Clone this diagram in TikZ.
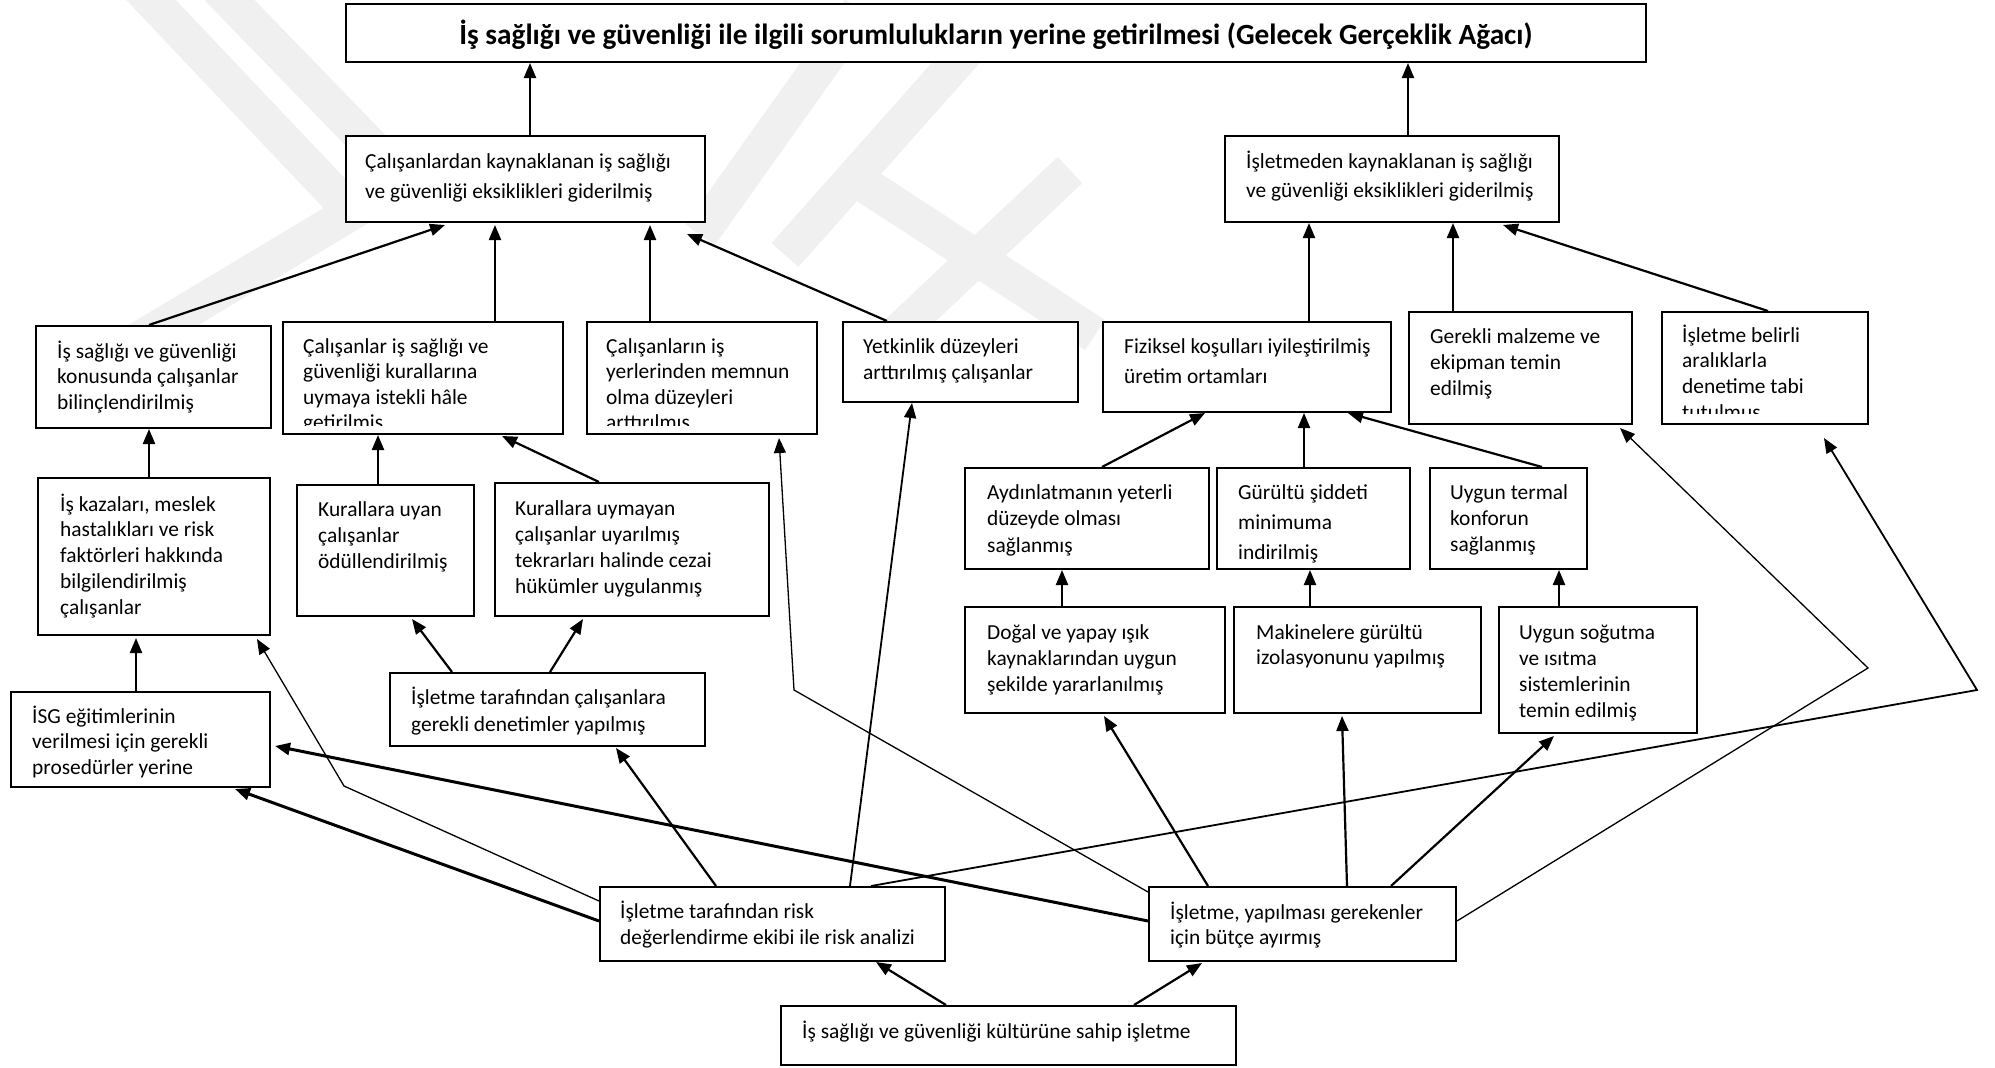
\documentclass[tikz,border=0pt]{standalone}
\usepackage{fontspec}
\setmainfont{Carlito}
\usetikzlibrary{arrows.meta}

% body text and line stacks
\newcommand{\body}{\fontsize{21.4}{25}\selectfont}
\newcommand{\lns}[2]{\renewcommand{\arraystretch}{#1}\begin{tabular}[t]{@{}l@{}}#2\end{tabular}}
% rectangle node given by its corners: name, x1, y1, x2, y2
\newcommand{\treebox}[5]{%
  \node[box, minimum width={(#4-#2)*1pt}, minimum height={(#5-#3)*1pt}]
    (#1) at ({(#2+#4)/2},{(#3+#5)/2}) {};}

\begin{document}
\begin{tikzpicture}[x=1pt, y=-1pt,
  box/.style={draw, line width=2pt, fill=white, inner sep=0pt},
  txt/.style={anchor=base west, inner sep=0pt, font=\body},
  tip/.style={-{Triangle[length=15pt,width=12pt]}},
  arr/.style={tip, line width=2.2pt},
  arrthin/.style={tip, line width=1.3pt},
  arrmid/.style={tip, line width=1.8pt},
  arrthick/.style={tip, line width=3pt},
  emblem/.style={draw=black!6, line width=36pt, line join=miter}]
\useasboundingbox (0,0) rectangle (1995,1068);

% faint background emblem
\draw[emblem] (132,-20) -- (352,212) -- (130,345);
\draw[emblem] (210,-20) -- (375,150);
\draw[emblem] (700,235) -- (860,10);
\draw[emblem] (785,255) -- (985,30);
\draw[emblem] (850,175) -- (1095,335);
\draw[emblem] (895,335) -- (1070,170);

% boxes
\treebox{T}{346}{4}{1646}{62}
\treebox{L1}{346}{136}{705}{222}
\treebox{R1}{1225}{136}{1559}{222}
\treebox{A}{36}{326}{271}{428}
\treebox{B}{283}{322}{563}{434}
\treebox{C}{587}{322}{817}{434}
\treebox{D}{843}{322}{1078}{402}
\treebox{E}{1103}{322}{1391}{412}
\treebox{F}{1409}{312}{1632}{424}
\treebox{G}{1662}{312}{1868}{424}
\treebox{H}{38}{478}{270}{635}
\treebox{I}{297}{485}{474}{616}
\treebox{J}{495}{483}{769}{616}
\treebox{P}{965}{468}{1209}{569}
\treebox{Q}{1217}{468}{1410}{569}
\treebox{R}{1430}{468}{1587}{569}
\treebox{S}{965}{607}{1225}{713}
\treebox{M}{1234}{607}{1481}{713}
\treebox{U}{1499}{607}{1697}{733}
\treebox{K}{390}{673}{705}{746}
\treebox{N}{11}{692}{270}{787}
\treebox{Risk}{600}{887}{945}{961}
\treebox{Bud}{1149}{887}{1456}{961}
\treebox{Bot}{781}{1006}{1236}{1065}

% texts
\node[anchor=base, inner sep=0pt, font=\fontsize{29.3}{33}\selectfont\bfseries] (Tt) at (996,44)
  {İş sağlığı ve güvenliği ile ilgili sorumlulukların yerine getirilmesi (Gelecek Gerçeklik Ağacı)};
\node[txt] (L1t) at (365,168) {\lns{1.2}{Çalışanlardan kaynaklanan iş sağlığı\\ve güvenliği eksiklikleri giderilmiş}};
\node[txt] (R1t) at (1246,168) {\lns{1.16}{İşletmeden kaynaklanan iş sağlığı\\ve güvenliği eksiklikleri giderilmiş}};
\node[txt] (At) at (57,358) {\lns{1.02}{İş sağlığı ve güvenliği\\konusunda çalışanlar\\bilinçlendirilmiş}};
\begin{scope}
  \clip (283,322) rectangle (563,425);
  \node[txt] (Bt) at (303,353) {\lns{1.02}{Çalışanlar iş sağlığı ve\\güvenliği kurallarına\\uymaya istekli hâle\\getirilmiş}};
\end{scope}
\begin{scope}
  \clip (587,322) rectangle (817,425);
  \node[txt] (Ct) at (606,353) {\lns{1.02}{Çalışanların iş\\yerlerinden memnun\\olma düzeyleri\\arttırılmış}};
\end{scope}
\node[txt] (Dt) at (863,353) {\lns{1.04}{Yetkinlik düzeyleri\\arttırılmış çalışanlar}};
\node[txt] (Et) at (1124,353) {\lns{1.2}{Fiziksel koşulları iyileştirilmiş\\üretim ortamları}};
\node[txt] (Ft) at (1430,343) {\lns{1.04}{Gerekli malzeme ve\\ekipman temin\\edilmiş}};
\begin{scope}
  \clip (1662,312) rectangle (1868,413);
  \node[txt] (Gt) at (1682,342) {\lns{1.03}{İşletme belirli\\aralıklarla\\denetime tabi\\tutulmuş}};
\end{scope}
\node[txt] (Ht) at (60,511) {\lns{1.03}{İş kazaları, meslek\\hastalıkları ve risk\\faktörleri hakkında\\bilgilendirilmiş\\çalışanlar}};
\node[txt] (It) at (318,516) {\lns{1.04}{Kurallara uyan\\çalışanlar\\ödüllendirilmiş}};
\node[txt] (Jt) at (515,515) {\lns{1.04}{Kurallara uymayan\\çalışanlar uyarılmış\\tekrarları halinde cezai\\hükümler uygulanmış}};
\node[txt] (Pt) at (987,499) {\lns{1.06}{Aydınlatmanın yeterli\\düzeyde olması\\sağlanmış}};
\node[txt] (Qt) at (1238,499) {\lns{1.2}{Gürültü şiddeti\\minimuma\\indirilmiş}};
\node[txt] (Rt) at (1450,499) {\lns{1.04}{Uygun termal\\konforun\\sağlanmış}};
\node[txt] (St) at (987,639) {\lns{1.04}{Doğal ve yapay ışık\\kaynaklarından uygun\\şekilde yararlanılmış}};
\node[txt] (Mt) at (1256,639) {\lns{1.0}{Makinelere gürültü\\izolasyonunu yapılmış}};
\node[txt] (Ut) at (1519,639) {\lns{1.04}{Uygun soğutma\\ve ısıtma\\sistemlerinin\\temin edilmiş}};
\node[txt] (Kt) at (411,704) {\lns{1.08}{İşletme tarafından çalışanlara\\gerekli denetimler yapılmış}};
\begin{scope}
  \clip (11,692) rectangle (270,778);
  \node[txt] (Nt) at (32,723) {\lns{1.03}{İSG eğitimlerinin\\verilmesi için gerekli\\prosedürler yerine}};
\end{scope}
\node[txt] (Riskt) at (620,918) {\lns{1.04}{İşletme tarafından risk\\değerlendirme ekibi ile risk analizi}};
\node[txt] (Budt) at (1170,919) {\lns{1.0}{İşletme, yapılması gerekenler\\için bütçe ayırmış}};
\node[txt] (Bott) at (802,1038) {İş sağlığı ve güvenliği kültürüne sahip işletme};

% bend points of the long connectors
\coordinate (kH) at (344,786);
\coordinate (kC) at (794,690);
\coordinate (kF) at (1868,668);
\coordinate (kG) at (1977,690);

% connectors
\draw[arr] ([xshift=185pt]L1.north west) -- ([xshift=185pt]T.south west);
\draw[arr] ([xshift=184pt]R1.north west) -- ([xshift=1063pt]T.south west);
\draw[arr] ([xshift=114pt]A.north west) -- ([xshift=100pt,yshift=-2pt]L1.south west);
\draw[arr] ([xshift=213pt]B.north west) -- ([xshift=150pt,yshift=-2pt]L1.south west);
\draw[arr] ([xshift=64pt]C.north west) -- ([xshift=305pt,yshift=-2pt]L1.south west);
\draw[arr] ([xshift=45pt]D.north west) -- ([xshift=342pt,yshift=-11pt]L1.south west);
\draw[arr] ([xshift=207pt]E.north west) -- ([xshift=85pt]R1.south west);
\draw[arr] ([xshift=45pt]F.north west) -- ([xshift=229pt]R1.south west);
\draw[arr] ([xshift=107pt]G.north west) -- ([xshift=279pt,yshift=-2pt]R1.south west);
\draw[arr] ([xshift=112pt]H.north west) -- ([xshift=114pt]A.south west);
\draw[arr] ([xshift=82pt]I.north west) -- ([xshift=96pt]B.south west);
\draw[arr] ([xshift=105pt]J.north west) -- ([xshift=220pt,yshift=-1pt]B.south west);
\draw[arr] ([xshift=138pt]P.north west) -- ([xshift=103pt]E.south west);
\draw[arr] ([xshift=88pt]Q.north west) -- ([xshift=202pt]E.south west);
\draw[arr] ([xshift=113pt]R.north west) -- ([xshift=246pt]E.south west);
\draw[arr] ([xshift=98pt]S.north west) -- ([xshift=98pt]P.south west);
\draw[arr] ([xshift=77pt]M.north west) -- ([xshift=94pt]Q.south west);
\draw[arr] ([xshift=61pt]U.north west) -- ([xshift=130pt]R.south west);
\draw[arr] ([xshift=63pt]K.north west) -- ([xshift=116pt,yshift=-2pt]I.south west);
\draw[arr] ([xshift=161pt]K.north west) -- ([xshift=89pt,yshift=-2pt]J.south west);
\draw[arr] ([xshift=126pt]N.north west) -- ([xshift=99pt,yshift=-2pt]H.south west);

\draw[arrthick] ([yshift=-35pt]Risk.north west) -- ([xshift=225pt,yshift=-1pt]N.south west);
\draw[arrthin] ([yshift=-15pt]Risk.north west) -- (kH) -- ([xshift=220pt,yshift=-3pt]H.south west);
\draw[arr] ([xshift=117pt]Risk.north west) -- ([xshift=227pt,yshift=-1pt]K.south west);
\draw[arrmid] ([xshift=251pt]Risk.north west) -- ([xshift=70pt]D.south west);
\draw[arrmid] ([xshift=272pt]Risk.north west) -- (kG) -- ([xshift=163pt,yshift=-13pt]G.south west);

\draw[arrthick] ([yshift=-35pt]Bud.north west) -- ([xshift=4pt,yshift=-55pt]N.north east);
\draw[arrthin] ([yshift=-6pt]Bud.north west) -- (kC) -- ([xshift=193pt,yshift=-3pt]C.south west);
\draw[arr] ([xshift=60pt]Bud.north west) -- ([xshift=140pt,yshift=-2pt]S.south west);
\draw[arr] ([xshift=199pt]Bud.north west) -- ([xshift=109pt,yshift=-2pt]M.south west);
\draw[arr] ([xshift=243pt]Bud.north west) -- ([xshift=56pt,yshift=-2pt]U.south west);
\draw[arrthin] ([yshift=-35pt]Bud.north east) -- (kF) -- ([xshift=212pt,yshift=-3pt]F.south west);

\draw[arr] ([xshift=166pt]Bot.north west) -- ([xshift=277pt]Risk.south west);
\draw[arr] ([xshift=354pt]Bot.north west) -- ([xshift=54pt,yshift=-1pt]Bud.south west);
\end{tikzpicture}
\end{document}
